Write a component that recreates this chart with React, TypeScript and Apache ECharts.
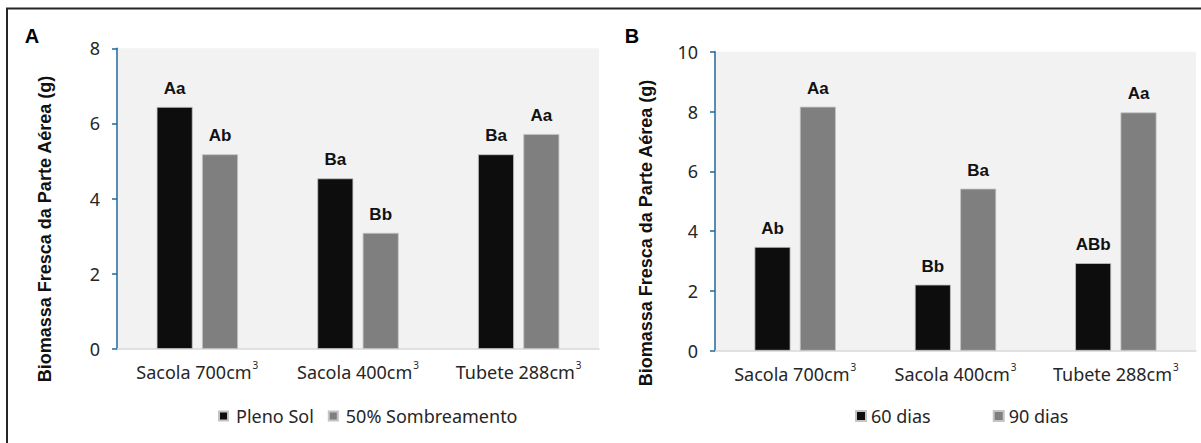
import React, { useEffect, useRef } from "react";
import * as echarts from "echarts";

const categories = ["Sacola 700cm³", "Sacola 400cm³", "Tubete 288cm³"];

const plenoSol = [6.44, 4.54, 5.18];
const sombreamento50 = [5.18, 3.09, 5.72];
const plenoSolLetters = ["Aa", "Ba", "Ba"];
const sombreamentoLetters = ["Ab", "Bb", "Aa"];

const dias60 = [3.47, 2.21, 2.93];
const dias90 = [8.16, 5.42, 7.97];
const dias60Letters = ["Ab", "Bb", "ABb"];
const dias90Letters = ["Aa", "Ba", "Aa"];

const yTitle = "Biomassa Fresca da Parte Aérea (g)";

const BLACK = "#0d0d0d";
const GRAY = "#7f7f7f";
const AXIS_BLUE = "#21689a";
const TEXT = "#262626";
const REG_FONT = "'Noto Sans', sans-serif";
const BOLD_FONT = "'Liberation Sans', Arial, sans-serif";

function barSeries(name: string, data: number[], letters: string[], color: string, idx: number) {
  return {
    type: "bar",
    name,
    data,
    xAxisIndex: idx,
    yAxisIndex: idx,
    barWidth: 36,
    barGap: "26%",
    itemStyle: { color, borderColor: "#c4c4c4", borderWidth: 0.8 },
    label: {
      show: true,
      position: "top",
      distance: 10,
      formatter: (p: any) => letters[p.dataIndex],
      fontFamily: BOLD_FONT,
      fontWeight: "bold",
      fontSize: 17,
      color: "#111",
    },
  };
}

function xAxis(idx: number) {
  return {
    type: "category",
    gridIndex: idx,
    data: categories,
    axisLine: { show: true, lineStyle: { color: "#d9d9d9", width: 1.5 } },
    axisTick: { show: false },
    axisLabel: {
      margin: 10,
      formatter: (v: string) => `{m|${v.replace("³", "")}}{s|3}`,
      rich: {
        m: { fontFamily: REG_FONT, fontSize: 18, color: TEXT, lineHeight: 22, verticalAlign: "bottom" },
        s: { fontFamily: REG_FONT, fontSize: 10, color: TEXT, lineHeight: 22, verticalAlign: "top", padding: [1, 0, 0, 1] },
      },
    },
  };
}

function yAxis(idx: number, max: number) {
  return {
    type: "value",
    gridIndex: idx,
    min: 0,
    max,
    interval: 2,
    splitLine: { show: false },
    axisLine: { show: true, lineStyle: { color: AXIS_BLUE, width: 1.5 } },
    axisTick: { show: true, length: 5, lineStyle: { color: AXIS_BLUE, width: 1.5 } },
    axisLabel: { margin: 17, fontFamily: REG_FONT, fontSize: 18, color: TEXT },
  };
}

export default function App() {
  const ref = useRef<HTMLDivElement>(null);
  useEffect(() => {
    if (!ref.current) return;
    const chart = echarts.init(ref.current, null, { renderer: "svg" });
    chart.setOption({
      animation: false,
      backgroundColor: "#ffffff",
      grid: [
        { left: 117, top: 48.3, width: 482, height: 300.7, show: true, backgroundColor: "#f2f2f2", borderWidth: 0, outerBoundsMode: "none" },
        { left: 715, top: 51.7, width: 481, height: 299, show: true, backgroundColor: "#f2f2f2", borderWidth: 0, outerBoundsMode: "none" },
      ],
      xAxis: [xAxis(0), xAxis(1)],
      yAxis: [yAxis(0, 8), yAxis(1, 10)],
      legend: [
        {
          data: ["Pleno Sol", "50% Sombreamento"],
          left: 213,
          top: 402,
          icon: "rect",
          itemWidth: 9,
          itemHeight: 9,
          itemGap: 14,
          textStyle: { fontFamily: REG_FONT, fontSize: 18, color: TEXT, padding: [0, 0, 0, 3] },
        },
        {
          data: ["60 dias", "90 dias"],
          left: 850,
          top: 402,
          icon: "rect",
          itemWidth: 10,
          itemHeight: 10,
          itemGap: 62,
          textStyle: { fontFamily: REG_FONT, fontSize: 18, color: TEXT },
        },
      ],
      series: [
        barSeries("Pleno Sol", plenoSol, plenoSolLetters, BLACK, 0),
        barSeries("50% Sombreamento", sombreamento50, sombreamentoLetters, GRAY, 0),
        barSeries("60 dias", dias60, dias60Letters, BLACK, 1),
        barSeries("90 dias", dias90, dias90Letters, GRAY, 1),
      ],
      graphic: [
        {
          type: "rect",
          shape: { x: 7, y: 8.5, width: 1400, height: 800 },
          style: { fill: "none", stroke: "#262626", lineWidth: 2 },
          silent: true,
        },
        {
          type: "text",
          x: 32,
          y: 36,
          style: { text: "A", fontFamily: BOLD_FONT, fontWeight: "bold", fontSize: 20, fill: "#000", align: "center", verticalAlign: "middle" },
        },
        {
          type: "text",
          x: 632,
          y: 36,
          style: { text: "B", fontFamily: BOLD_FONT, fontWeight: "bold", fontSize: 20, fill: "#000", align: "center", verticalAlign: "middle" },
        },
        {
          type: "text",
          x: 45,
          y: 229,
          rotation: Math.PI / 2,
          style: { text: yTitle, fontFamily: BOLD_FONT, fontWeight: "bold", fontSize: 18, fill: "#111", align: "center", verticalAlign: "middle" },
        },
        {
          type: "text",
          x: 646,
          y: 233,
          rotation: Math.PI / 2,
          style: { text: yTitle, fontFamily: BOLD_FONT, fontWeight: "bold", fontSize: 18, fill: "#111", align: "center", verticalAlign: "middle" },
        },
      ],
    });
    return () => chart.dispose();
  }, []);
  return <div ref={ref} style={{ position: "fixed", left: 0, top: 0, width: 1201, height: 443 }} />;
}
